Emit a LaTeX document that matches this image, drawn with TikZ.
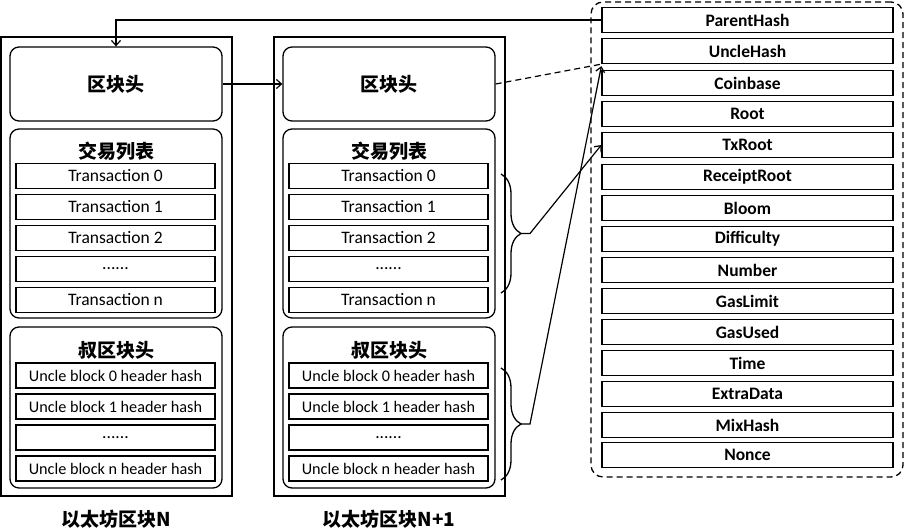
\documentclass[tikz,border=0pt]{standalone}
\usepackage{fontspec}
\setmainfont{Carlito}
\newfontfamily\cjk{Noto Sans CJK SC}
\usepackage{tikz}
\usetikzlibrary{arrows.meta, shapes, decorations.pathreplacing, positioning}
\tikzstyle{block} = [draw, line width=1.5pt, inner sep=0, minimum width=231pt, minimum height=459pt]
\tikzstyle{part} = [draw, rounded corners=9pt, line width=1.3pt, inner sep=0, minimum width=212pt]
\tikzstyle{item} = [draw, line width=1.3pt, inner sep=0, minimum width=199pt, minimum height=25pt,
                    font=\fontsize{17.5}{20}\selectfont]
\tikzstyle{uncle} = [item, font=\fontsize{16.2}{19}\selectfont]
\tikzstyle{field} = [item, minimum width=291pt, font=\bfseries\fontsize{17.5}{20}\selectfont]
\tikzstyle{title} = [font=\cjk\bfseries\fontsize{19}{22}\selectfont]
\tikzstyle{fields} = [draw, dash pattern=on 6pt off 4pt, rounded corners=12pt, line width=1.3pt,
                      minimum width=312pt, minimum height=475pt]
\tikzstyle{brace} = [decorate, decoration={brace, amplitude=20pt}, line width=1.3pt]
\tikzstyle{link} = [line width=1.2pt, -{Straight Barb[length=5pt,width=9pt]}]

\begin{document}
\begin{tikzpicture}[x=1pt, y=-1pt]
				\useasboundingbox (0, 0) rectangle (905, 532);

				% block N
				\node (BlockN) [block] at (116.5, 266.5) {};
				\node (HeaderN) [part, minimum height=74pt] at (116, 84) {};
				\node (HeaderTitleN) [title] at (116, 84) {区块头};

				\node (TxListN) [part, minimum height=189pt] at (116, 223.5) {};
				\node (TxTitleN) [title] at (116, 151) {交易列表};
				\node (TxN0) [item] at (115.5, 176) {Transaction 0};
				\node (TxN1) [item] at (115.5, 207) {Transaction 1};
				\node (TxN2) [item] at (115.5, 238) {Transaction 2};
				\node (TxNDots) [item] at (115.5, 269) {......};
				\node (TxNn) [item] at (115.5, 300) {Transaction n};

				\node (UncleListN) [part, minimum height=161pt] at (116, 407.5) {};
				\node (UncleTitleN) [title] at (116, 350) {叔区块头};
				\node (UncleN0) [uncle] at (115.5, 375.5) {Uncle block 0 header hash};
				\node (UncleN1) [uncle] at (115.5, 406.5) {Uncle block 1 header hash};
				\node (UncleNDots) [item] at (115.5, 437.5) {......};
				\node (UncleNn) [uncle] at (115.5, 468.5) {Uncle block n header hash};

				\node (LabelN) [title] at (116, 519) {以太坊区块N};

				% block N+1
				\node (BlockNext) [block] at (389.5, 266.5) {};
				\node (HeaderNext) [part, minimum height=74pt] at (389, 84) {};
				\node (HeaderTitleNext) [title] at (389, 84) {区块头};

				\node (TxListNext) [part, minimum height=189pt] at (389, 223.5) {};
				\node (TxTitleNext) [title] at (389, 151) {交易列表};
				\node (TxNext0) [item] at (388.5, 176) {Transaction 0};
				\node (TxNext1) [item] at (388.5, 207) {Transaction 1};
				\node (TxNext2) [item] at (388.5, 238) {Transaction 2};
				\node (TxNextDots) [item] at (388.5, 269) {......};
				\node (TxNextn) [item] at (388.5, 300) {Transaction n};

				\node (UncleListNext) [part, minimum height=161pt] at (389, 407.5) {};
				\node (UncleTitleNext) [title] at (389, 350) {叔区块头};
				\node (UncleNext0) [uncle] at (388.5, 375.5) {Uncle block 0 header hash};
				\node (UncleNext1) [uncle] at (388.5, 406.5) {Uncle block 1 header hash};
				\node (UncleNextDots) [item] at (388.5, 437.5) {......};
				\node (UncleNextn) [uncle] at (388.5, 468.5) {Uncle block n header hash};

				\node (LabelNext) [title] at (389, 519) {以太坊区块N+1};

				% header fields
				\node (HeaderFields) [fields] at (747, 239.5) {};
				\node (ParentHash) [field] at (747.5, 20) {ParentHash};
				\node (UncleHash) [field] at (747.5, 51) {UncleHash};
				\node (Coinbase) [field] at (747.5, 83) {Coinbase};
				\node (Root) [field] at (747.5, 114) {Root};
				\node (TxRoot) [field] at (747.5, 145) {TxRoot};
				\node (ReceiptRoot) [field] at (747.5, 177) {ReceiptRoot};
				\node (Bloom) [field] at (747.5, 208) {Bloom};
				\node (Difficulty) [field] at (747.5, 239) {Difficulty};
				\node (Number) [field] at (747.5, 270) {Number};
				\node (GasLimit) [field] at (747.5, 301) {GasLimit};
				\node (GasUsed) [field] at (747.5, 332) {GasUsed};
				\node (Time) [field] at (747.5, 363) {Time};
				\node (ExtraData) [field] at (747.5, 394) {ExtraData};
				\node (MixHash) [field] at (747.5, 425) {MixHash};
				\node (Nonce) [field] at (747.5, 455) {Nonce};

				% links between blocks
				\draw [link] (ParentHash.west) -| (HeaderN.north);
				\draw [link] (HeaderN) -- (HeaderNext);
				\draw [line width=1.2pt, dash pattern=on 6pt off 4pt] (HeaderNext.east) -- (UncleHash.south west);

				% transactions to TxRoot
				\coordinate (TxBraceTop) at (501, 174);
				\coordinate (TxBraceBot) at (501, 293);
				\draw [brace] (TxBraceTop) -- (TxBraceBot);
				\coordinate (TxBraceMid) at (521, 233.5);
				\coordinate (TxBraceTip) at (530, 233.5);
				\draw [link] (TxBraceMid) -- (TxBraceTip) -- (TxRoot.west);

				% uncles to UncleHash
				\coordinate (UncleBraceTop) at (501, 368);
				\coordinate (UncleBraceBot) at (501, 480);
				\draw [brace] (UncleBraceTop) -- (UncleBraceBot);
				\coordinate (UncleBraceMid) at (521, 424);
				\coordinate (UncleBraceTip) at (530, 424);
				\draw [link] (UncleBraceMid) -- (UncleBraceTip) -- ([yshift=-2pt]UncleHash.south west);
			\end{tikzpicture}
\end{document}
